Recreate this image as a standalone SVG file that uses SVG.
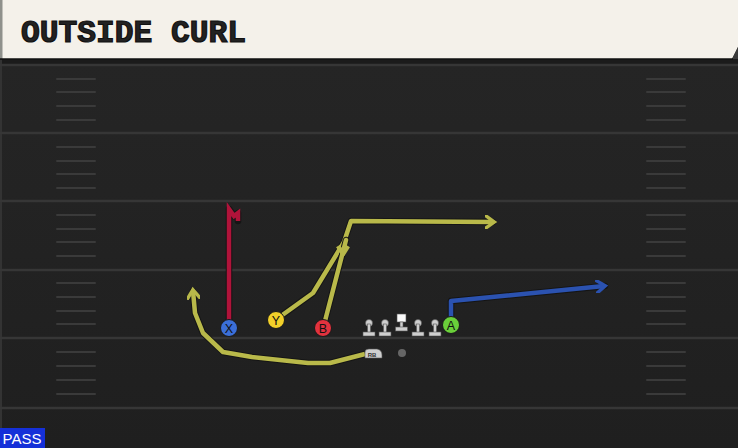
<svg xmlns="http://www.w3.org/2000/svg" width="738" height="448" viewBox="0 0 738 448">
<defs>
<style>
.yard{stroke:#363636;stroke-width:2.5}
.hash{stroke:#3a3a3a;stroke-width:2;stroke-linecap:round}
.ol{fill:none;stroke:#151515;stroke-width:6.5;stroke-linejoin:round;stroke-linecap:round}
.yel{fill:none;stroke:#b9b94a;stroke-width:4.5;stroke-linejoin:round}
.red{fill:none;stroke:#b0133a;stroke-width:4.5;stroke-linejoin:miter}
.blu{fill:none;stroke:#2b52b0;stroke-width:4.5;stroke-linejoin:round}
.lbl{font-family:"Liberation Sans",Arial,sans-serif;font-size:12.5px;fill:#111;text-anchor:middle}
.lm{fill:#cfcfcf;stroke:#555;stroke-width:0.6}
</style>
<marker id="ay" viewBox="0 0 10 10" refX="6" refY="5" markerWidth="3" markerHeight="3" orient="auto" markerUnits="strokeWidth">
<path d="M0,0 L7,5 L0,10" fill="none" stroke="#b9b94a" stroke-width="2.5"/>
</marker>
<marker id="ab" viewBox="0 0 10 10" refX="6" refY="5" markerWidth="3" markerHeight="3" orient="auto" markerUnits="strokeWidth">
<path d="M0,0 L7,5 L0,10" fill="none" stroke="#2b52b0" stroke-width="2.5"/>
</marker>
<linearGradient id="fg" x1="0" y1="0" x2="0" y2="1">
<stop offset="0" stop-color="#262626"/>
<stop offset="1" stop-color="#1f1f1f"/>
</linearGradient>
</defs>
<rect x="0" y="0" width="738" height="448" fill="url(#fg)"/>
<rect x="0" y="59" width="738" height="6" fill="#1b1b1b"/>
<rect x="0" y="59" width="2" height="389" fill="#333"/>
<g id="field">
<line class="yard" x1="0" y1="65" x2="738" y2="65"/>
<line class="yard" x1="0" y1="133" x2="738" y2="133"/>
<line class="yard" x1="0" y1="201" x2="738" y2="201"/>
<line class="yard" x1="0" y1="270" x2="738" y2="270"/>
<line class="yard" x1="0" y1="338" x2="738" y2="338"/>
<line class="yard" x1="0" y1="408" x2="738" y2="408"/>
<g class="hash">
<line x1="57" y1="79" x2="95" y2="79"/><line x1="57" y1="92" x2="95" y2="92"/><line x1="57" y1="106" x2="95" y2="106"/><line x1="57" y1="120" x2="95" y2="120"/>
<line x1="57" y1="147" x2="95" y2="147"/><line x1="57" y1="161" x2="95" y2="161"/><line x1="57" y1="174" x2="95" y2="174"/><line x1="57" y1="188" x2="95" y2="188"/>
<line x1="57" y1="215" x2="95" y2="215"/><line x1="57" y1="229" x2="95" y2="229"/><line x1="57" y1="242" x2="95" y2="242"/><line x1="57" y1="256" x2="95" y2="256"/>
<line x1="57" y1="283" x2="95" y2="283"/><line x1="57" y1="297" x2="95" y2="297"/><line x1="57" y1="311" x2="95" y2="311"/><line x1="57" y1="324" x2="95" y2="324"/>
<line x1="57" y1="352" x2="95" y2="352"/><line x1="57" y1="366" x2="95" y2="366"/><line x1="57" y1="380" x2="95" y2="380"/><line x1="57" y1="394" x2="95" y2="394"/>
<line x1="647" y1="79" x2="685" y2="79"/><line x1="647" y1="92" x2="685" y2="92"/><line x1="647" y1="106" x2="685" y2="106"/><line x1="647" y1="120" x2="685" y2="120"/>
<line x1="647" y1="147" x2="685" y2="147"/><line x1="647" y1="161" x2="685" y2="161"/><line x1="647" y1="174" x2="685" y2="174"/><line x1="647" y1="188" x2="685" y2="188"/>
<line x1="647" y1="215" x2="685" y2="215"/><line x1="647" y1="229" x2="685" y2="229"/><line x1="647" y1="242" x2="685" y2="242"/><line x1="647" y1="256" x2="685" y2="256"/>
<line x1="647" y1="283" x2="685" y2="283"/><line x1="647" y1="297" x2="685" y2="297"/><line x1="647" y1="311" x2="685" y2="311"/><line x1="647" y1="324" x2="685" y2="324"/>
<line x1="647" y1="352" x2="685" y2="352"/><line x1="647" y1="366" x2="685" y2="366"/><line x1="647" y1="380" x2="685" y2="380"/><line x1="647" y1="394" x2="685" y2="394"/>
</g>
</g>
<g id="header">
<path d="M0,0 H738 V47 L732,59 H0 Z" fill="#f4f1ea"/>
<path d="M738,47 L732,59 H738 Z" fill="#3a3a3a"/>
<rect x="0" y="0" width="2.5" height="59" fill="#8f918c"/>
<line x1="0" y1="59" x2="733" y2="59" stroke="#111" stroke-width="1.5"/>
<text x="21" y="42" font-family="'Liberation Mono','DejaVu Sans Mono',monospace" font-weight="bold" font-size="31" fill="#222" stroke="#111" stroke-width="1.2" textLength="225" lengthAdjust="spacingAndGlyphs">OUTSIDE CURL</text>
</g>
<g id="connectors">
<path class="ol" d="M229,322 V209 L234,216 L238,213 V221"/>
<path class="red" d="M229,322 V209 L234,216 L238,213 V221"/>
<path class="ol" d="M365,354 L330,363 L308,363 L252,357 L223,352 L203,333 L195,313 L193,291"/>
<path class="yel" d="M365,354 L330,363 L308,363 L252,357 L223,352 L203,333 L195,313 L193,291" marker-end="url(#ay)"/>
<path class="ol" d="M281,316 L313,293 L344,242 L351,221 L493,222"/>
<path class="yel" d="M281,316 L313,293 L344,242 L351,221 L493,222" marker-end="url(#ay)"/>
<path class="ol" d="M325,321 L346,240 L343,252"/>
<path class="yel" d="M325,321 L346,240 L343,252"/>
<path class="yel" d="M338,246 L343,254 L348,246" stroke-width="3"/>
<path class="ol" d="M451,319 V301 L605,286"/>
<path class="blu" d="M451,319 V301 L604,286" marker-end="url(#ab)"/>
</g>
<g id="X"><circle cx="229" cy="328" r="8.5" fill="#3b6fd8" stroke="#1a1a1a" stroke-width="1"/><text class="lbl" x="229" y="332.5">X</text></g>
<g id="Y"><circle cx="276" cy="320" r="8.5" fill="#f2d02a" stroke="#1a1a1a" stroke-width="1"/><text class="lbl" x="276" y="324.5">Y</text></g>
<g id="B"><circle cx="323" cy="328" r="8.5" fill="#e2323e" stroke="#1a1a1a" stroke-width="1"/><text class="lbl" x="323" y="332.5">B</text></g>
<g id="A"><circle cx="451" cy="325" r="8.5" fill="#6ad03a" stroke="#1a1a1a" stroke-width="1"/><text class="lbl" x="451" y="329.5">A</text></g>
<g id="linemen">
<g id="LT"><circle class="lm" cx="369" cy="323" r="3.5"/><rect class="lm" x="367.5" y="324" width="3" height="9"/><rect class="lm" x="363" y="332" width="12" height="4"/></g>
<g id="LG"><circle class="lm" cx="385" cy="323" r="3.5"/><rect class="lm" x="383.5" y="324" width="3" height="9"/><rect class="lm" x="379" y="332" width="12" height="4"/></g>
<g id="C"><rect x="397" y="314" width="9" height="8" fill="#fafafa" stroke="#555" stroke-width="0.6"/><rect class="lm" x="400" y="322" width="3" height="6"/><rect class="lm" x="395.5" y="327" width="12" height="4"/></g>
<g id="RG"><circle class="lm" cx="418" cy="323" r="3.5"/><rect class="lm" x="416.5" y="324" width="3" height="9"/><rect class="lm" x="412" y="332" width="12" height="4"/></g>
<g id="RT"><circle class="lm" cx="435" cy="323" r="3.5"/><rect class="lm" x="433.5" y="324" width="3" height="9"/><rect class="lm" x="429" y="332" width="12" height="4"/></g>
</g>
<g id="RB"><path d="M365,358 V352 Q365,349 369,349 H377 Q382,350 382,355 V358 Z" fill="#cfcfcf" stroke="#555" stroke-width="0.6"/><text x="372" y="356.5" font-family="'Liberation Sans',Arial,sans-serif" font-size="6" font-weight="bold" fill="#333" text-anchor="middle">RB</text></g>
<g id="QB"><circle cx="402" cy="353" r="4" fill="#666"/></g>
<g id="pass"><rect x="0" y="428" width="45" height="20" fill="#1530d8"/><text x="22" y="444" font-family="'Liberation Sans',Arial,sans-serif" font-size="15" fill="#fff" text-anchor="middle">PASS</text></g>
</svg>
